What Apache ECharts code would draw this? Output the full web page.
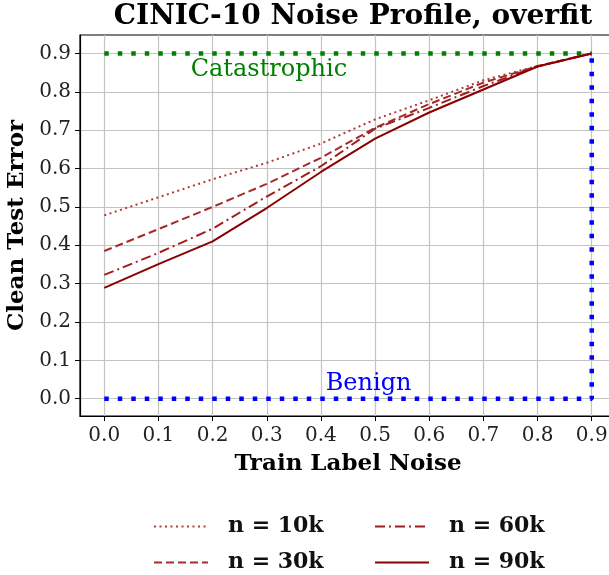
<!DOCTYPE html>
<html>
<head>
<meta charset="utf-8">
<script src="https://cdn.jsdelivr.net/npm/echarts@6/dist/echarts.min.js"></script>
<style>
  html, body { margin: 0; padding: 0; background: #fff; }
  #chart { width: 609px; height: 575px; }
</style>
</head>
<body>
<div id="chart"></div>
<script>
// Train label noise levels (x) and clean test error per training-set size
const noise   = [0.0, 0.1, 0.2, 0.3, 0.4, 0.5, 0.6, 0.7, 0.8, 0.9];
const err10k  = [0.478, 0.525, 0.572, 0.615, 0.665, 0.728, 0.778, 0.830, 0.867, 0.900];
const err30k  = [0.385, 0.442, 0.500, 0.560, 0.628, 0.706, 0.768, 0.824, 0.867, 0.900];
const err60k  = [0.323, 0.380, 0.443, 0.527, 0.606, 0.704, 0.758, 0.815, 0.866, 0.900];
const err90k  = [0.289, 0.351, 0.410, 0.497, 0.591, 0.678, 0.746, 0.806, 0.866, 0.900];

// Reference regimes
const catastrophicX = [0.0, 0.9];
const catastrophicY = [0.9, 0.9];
const benignX = [0.0, 0.9, 0.9];
const benignY = [0.0, 0.0, 0.9];
const catastrophicTextAt = [0.304, 0.858];
const benignTextAt = [0.488, 0.038];

const xTicks = [0.0, 0.1, 0.2, 0.3, 0.4, 0.5, 0.6, 0.7, 0.8, 0.9];
const yTicks = [0.0, 0.1, 0.2, 0.3, 0.4, 0.5, 0.6, 0.7, 0.8, 0.9];

const seriesNames = ['n = 10k', 'n = 30k', 'n = 60k', 'n = 90k'];

const SERIF = '"DejaVu Serif", serif';
const pairs = (xs, ys) => xs.map((x, i) => [x, ys[i]]);

const chart = echarts.init(document.getElementById('chart'), null, { renderer: 'canvas' });

function curve(name, ys, color, type, width, z) {
  return {
    name: name,
    type: 'line',
    data: pairs(noise, ys),
    symbol: 'none',
    z: z,
    lineStyle: { color: color, width: width, type: type, cap: 'butt' },
    itemStyle: { color: color }
  };
}

function annotation(pos, text, color) {
  return {
    type: 'scatter',
    data: [pos],
    symbolSize: 0,
    silent: true,
    z: 10,
    itemStyle: { opacity: 1 },
    label: {
      show: true,
      position: 'inside',
      formatter: text,
      color: color,
      opacity: 1,
      fontFamily: SERIF,
      fontSize: 24
    }
  };
}

function legendColumn(names, left) {
  return {
    data: names,
    orient: 'vertical',
    left: left, top: 514, height: 61,
    padding: 0,
    itemWidth: 54, itemHeight: 14, itemGap: 11,
    itemStyle: { opacity: 0 },
    textStyle: {
      fontFamily: SERIF, fontWeight: 'bold', fontSize: 22, color: '#111',
      lineHeight: 25, padding: [0, 0, 0, 15]
    }
  };
}

const axisCommon = {
  type: 'value',
  axisLine: { show: true, onZero: false, lineStyle: { color: '#000', width: 1.2 } },
  axisTick: { show: true, inside: false, length: 5, lineStyle: { color: '#000', width: 1 } },
  splitLine: { show: true, lineStyle: { color: '#c4c4c4', width: 1.2 } },
  nameTextStyle: { fontFamily: SERIF, fontWeight: 'bold', fontSize: 23, color: '#000' }
};

const option = {
  animation: false,
  backgroundColor: '#fff',
  title: {
    text: 'CINIC-10 Noise Profile, overfit',
    left: 348,
    textAlign: 'center',
    top: -2,
    textStyle: { fontFamily: SERIF, fontWeight: 'bold', fontSize: 28, color: '#000' }
  },
  grid: {
    left: 80, top: 35, width: 536, height: 381,
    show: true, borderColor: '#000', borderWidth: 1.2,
    outerBoundsMode: 'none', containLabel: false
  },
  xAxis: Object.assign({}, axisCommon, {
    min: -0.0448, max: 0.9448,
    name: 'Train Label Noise',
    nameLocation: 'middle',
    nameGap: 37,
    axisTick: Object.assign({}, axisCommon.axisTick, { customValues: xTicks }),
    axisLabel: {
      customValues: xTicks,
      formatter: v => v.toFixed(1),
      margin: 10,
      fontFamily: SERIF, fontSize: 20, color: '#222'
    }
  }),
  yAxis: Object.assign({}, axisCommon, {
    min: -0.045, max: 0.948,
    name: 'Clean Test Error',
    nameLocation: 'middle',
    nameGap: 42,
    axisTick: Object.assign({}, axisCommon.axisTick, { customValues: yTicks }),
    axisLabel: {
      customValues: yTicks,
      formatter: v => v.toFixed(1),
      margin: 9,
      fontFamily: SERIF, fontSize: 20, color: '#222'
    }
  }),
  legend: [
    legendColumn([seriesNames[0], seriesNames[1]], 153),
    legendColumn([seriesNames[2], seriesNames[3]], 374)
  ],
  series: [
    {
      type: 'line', data: pairs(catastrophicX, catastrophicY), symbol: 'none', silent: true, z: 1,
      lineStyle: { color: '#008000', width: 4.5, type: [4.5, 9], cap: 'butt' }
    },
    {
      type: 'line', data: pairs(benignX, benignY), symbol: 'none', silent: true, z: 1,
      lineStyle: { color: '#0000ff', width: 4.5, type: [4.5, 9], cap: 'butt' }
    },
    curve(seriesNames[0], err10k, '#b03a3a', [2, 3.5], 2, 3),
    curve(seriesNames[1], err30k, '#a52a2a', [8, 4], 2, 3),
    curve(seriesNames[2], err60k, '#a01e1e', [10, 4, 2, 4], 2, 3),
    curve(seriesNames[3], err90k, '#8b0000', 'solid', 2, 4),
    annotation(catastrophicTextAt, 'Catastrophic', '#008000'),
    annotation(benignTextAt, 'Benign', '#0000ff')
  ]
};

chart.setOption(option);
</script>
</body>
</html>
